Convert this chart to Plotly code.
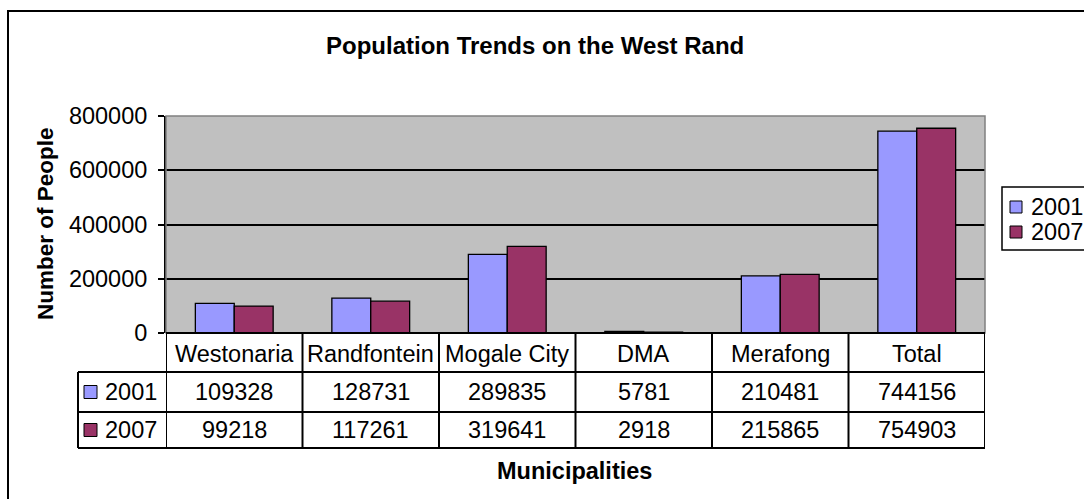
import plotly.graph_objects as go

categories = ["Westonaria", "Randfontein", "Mogale City", "DMA", "Merafong", "Total"]
series_names = ["2001", "2007"]
values_2001 = [109328, 128731, 289835, 5781, 210481, 744156]
values_2007 = [99218, 117261, 319641, 2918, 215865, 754903]
y_ticks = [0, 200000, 400000, 600000, 800000]
title_text = "Population Trends on the West Rand"
y_title = "Number of People"
x_title = "Municipalities"

W, H = 1084, 499
FONT = "Liberation Sans, Arial, sans-serif"
C2001 = "#9999FF"
C2007 = "#993366"
FS = 23.5

def px(x):
    return x / W

def py(y):
    return 1 - y / H

# plot area in pixels
PL, PR, PT, PB = 166, 985, 116, 333
# table rows
ROW1, ROW2, ROW3 = 372, 412, 448
TABLE_L = 78

fig = go.Figure()
series = [(series_names[0], values_2001, C2001), (series_names[1], values_2007, C2007)]
for name, vals, col in series:
    fig.add_trace(go.Bar(
        x=list(range(len(categories))), y=vals, name=name,
        marker=dict(color=col, line=dict(color="black", width=1.3)),
        showlegend=False,
    ))

shapes = []
# outer chart border (left and top, continues off-image)
shapes.append(dict(type="rect", xref="paper", yref="paper",
                   x0=px(8), x1=1.05, y0=-0.05, y1=py(11),
                   line=dict(color="black", width=2), layer="below"))
# plot area border (gray)
shapes.append(dict(type="rect", xref="paper", yref="paper",
                   x0=px(PL), x1=px(PR), y0=py(PB), y1=py(PT),
                   line=dict(color="#808080", width=1.5), layer="above"))

# table vertical lines at category boundaries
n = len(categories)
for i in range(n + 1):
    shapes.append(dict(type="line", xref="x", yref="paper",
                       x0=i - 0.5, x1=i - 0.5, y0=py(ROW3), y1=py(PB),
                       line=dict(color="black", width=2)))
# table horizontal lines
for yy in (ROW1, ROW2, ROW3):
    shapes.append(dict(type="line", xref="paper", yref="paper",
                       x0=px(TABLE_L), x1=px(PR), y0=py(yy), y1=py(yy),
                       line=dict(color="black", width=2)))
shapes.append(dict(type="line", xref="paper", yref="paper",
                   x0=px(PL), x1=px(PR), y0=py(PB), y1=py(PB),
                   line=dict(color="black", width=2)))
shapes.append(dict(type="line", xref="paper", yref="paper",
                   x0=px(TABLE_L), x1=px(TABLE_L), y0=py(ROW3), y1=py(ROW1),
                   line=dict(color="black", width=2)))

annotations = []
row_centers = [(ROW1 + ROW2) / 2, (ROW2 + ROW3) / 2]
# table legend keys and labels
for (name, vals, col), yc in zip(series, row_centers):
    shapes.append(dict(type="rect", xref="paper", yref="paper",
                       x0=px(84), x1=px(97), y0=py(yc + 6.5), y1=py(yc - 6.5),
                       fillcolor=col, line=dict(color="black", width=1)))
    annotations.append(dict(text=name, xref="paper", yref="paper",
                            x=px(103), y=py(yc), xanchor="left", yanchor="middle",
                            showarrow=False, font=dict(size=FS, color="black", family=FONT)))
    for i, v in enumerate(vals):
        annotations.append(dict(text=str(v), xref="x", yref="paper",
                                x=i, y=py(yc), xanchor="center", yanchor="middle",
                                showarrow=False, font=dict(size=FS, color="black", family=FONT)))
# category header
for i, c in enumerate(categories):
    annotations.append(dict(text=c, xref="x", yref="paper",
                            x=i, y=py((PB + ROW1) / 2 + 1), xanchor="center", yanchor="middle",
                            showarrow=False, font=dict(size=FS, color="black", family=FONT)))

# right legend (cut off at the image edge)
shapes.append(dict(type="rect", xref="paper", yref="paper",
                   x0=px(1002), x1=1.05, y0=py(250), y1=py(187),
                   fillcolor="white", line=dict(color="black", width=1.5)))
for (name, vals, col), yc in zip(series, (207, 232)):
    shapes.append(dict(type="rect", xref="paper", yref="paper",
                       x0=px(1010), x1=px(1022), y0=py(yc + 6), y1=py(yc - 6),
                       fillcolor=col, line=dict(color="black", width=1)))
    annotations.append(dict(text=name, xref="paper", yref="paper",
                            x=px(1029), y=py(yc), xanchor="left", yanchor="middle",
                            showarrow=False, font=dict(size=FS, color="black", family=FONT)))

# titles
annotations.append(dict(text="<b>" + title_text + "</b>", xref="paper", yref="paper",
                        x=px(535), y=py(46), xanchor="center", yanchor="middle",
                        showarrow=False, font=dict(size=24, color="black", family=FONT)))
annotations.append(dict(text="<b>" + y_title + "</b>", xref="paper", yref="paper",
                        x=px(45), y=py(224), xanchor="center", yanchor="middle", textangle=-90,
                        showarrow=False, font=dict(size=22.5, color="black", family=FONT)))
annotations.append(dict(text="<b>" + x_title + "</b>", xref="paper", yref="paper",
                        x=px(574), y=py(471), xanchor="center", yanchor="middle",
                        showarrow=False, font=dict(size=23.5, color="black", family=FONT)))

fig.update_layout(
    width=W, height=H,
    margin=dict(l=0, r=0, t=0, b=0, autoexpand=False),
    paper_bgcolor="white", plot_bgcolor="#C0C0C0",
    barmode="group", bargap=0.43, bargroupgap=0,
    font=dict(family=FONT, size=FS, color="black"),
    xaxis=dict(domain=[px(PL), px(PR)], range=[-0.5, n - 0.5],
               showticklabels=False, showgrid=False, zeroline=False, ticks=""),
    yaxis=dict(domain=[py(PB), py(PT)], range=[0, 800000],
               tickvals=y_ticks, ticktext=[str(t) for t in y_ticks],
               showgrid=True, gridcolor="black", gridwidth=1.5,
               zeroline=False, showline=True, linecolor="black", linewidth=2,
               ticks="outside", ticklen=6, tickcolor="black", tickwidth=2,
               ticklabelstandoff=6,
               tickfont=dict(size=FS, color="black", family=FONT)),
    shapes=shapes, annotations=annotations,
)

fig.write_html("out.html")
